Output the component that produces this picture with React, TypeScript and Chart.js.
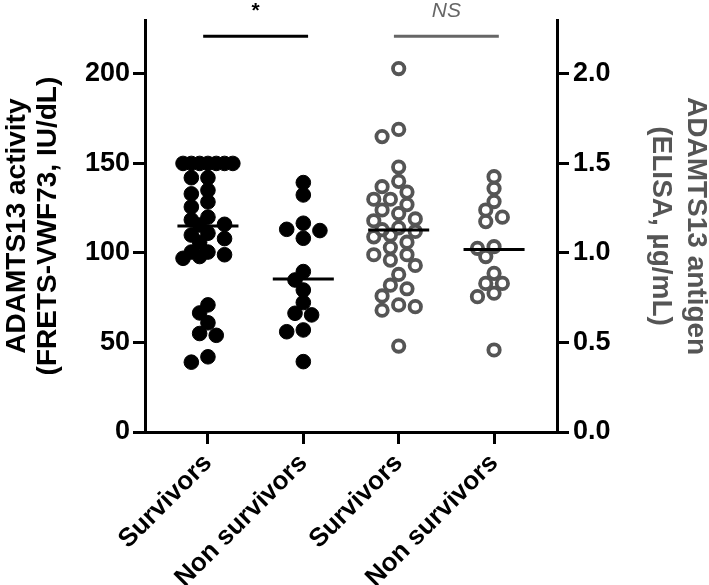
import React, { useEffect, useRef } from "react";
import { Chart, registerables } from "chart.js";

Chart.register(...registerables);

// ---- data ----
const categories = ["Survivors", "Non survivors", "Survivors", "Non survivors"];

// ADAMTS13 activity (IU/dL), left axis
const activitySurvivors = [
  150, 150, 150, 150, 150, 150, 150, 142, 142, 135, 133, 128.5, 125.7, 120, 118.5, 116, 115.6,
  111, 110, 108, 106, 100.5, 100.5, 99, 98, 97, 71, 66.5, 61, 55, 54, 42, 39,
];
const activityNonSurvivors = [139.3, 132.4, 116.6, 113.2, 112.5, 108.2, 89.6, 84.9, 79.3, 72.3, 66.3, 65.4, 57, 56, 39.3];

// ADAMTS13 antigen (µg/mL), right axis
const antigenSurvivors = [
  2.03, 1.69, 1.65, 1.48, 1.4, 1.37, 1.34, 1.3, 1.3, 1.27, 1.24, 1.22, 1.19, 1.18, 1.14, 1.13, 1.12,
  1.1, 1.09, 1.06, 1.03, 0.99, 0.99, 0.96, 0.93, 0.88, 0.82, 0.8, 0.76, 0.71, 0.7, 0.68, 0.48,
];
const antigenNonSurvivors = [1.426, 1.36, 1.287, 1.24, 1.2, 1.175, 1.035, 1.026, 0.98, 0.886, 0.83, 0.83, 0.775, 0.756, 0.458];

const medians = [115, 85.5, 1.128, 1.02];

const leftTicks = [0, 50, 100, 150, 200];
const rightTicks = [0, 0.5, 1.0, 1.5, 2.0];

const sigBars = [
  { from: 1, to: 2, label: "*", level: 221, color: "#000000" },
  { from: 3, to: 4, label: "NS", level: 221, color: "#666666" },
];

const FONT = "'Liberation Sans', Arial, Helvetica, sans-serif";
const GRAY = "#555555";

function swarm(values: number[], cat: number, xs: any, ys: any) {
  const cx = xs.getPixelForValue(cat);
  const STEP = 8.3;
  const SLOTS = 3;
  const D = 11.5;
  const order = values.map((_, i) => i).sort((a, b) => values[b] - values[a]);
  const placed: { px: number; py: number }[] = [];
  const out: { x: number; y: number }[] = new Array(values.length);
  const cands = [0];
  for (let k = 1; k <= SLOTS; k++) cands.push(-k, k);
  for (const i of order) {
    const py = ys.getPixelForValue(values[i]);
    let best = cx;
    let bestScore = -Infinity;
    for (const k of cands) {
      const px = cx + k * STEP;
      let minD = Infinity;
      for (const p of placed) minD = Math.min(minD, Math.hypot(p.px - px, p.py - py));
      if (minD >= D) {
        best = px;
        break;
      }
      if (minD > bestScore + 0.01) {
        bestScore = minD;
        best = px;
      }
    }
    placed.push({ px: best, py });
    out[i] = { x: xs.getValueForPixel(best), y: values[i] };
  }
  return out;
}

const sigPlugin = {
  id: "sigBars",
  afterDraw(chart: any) {
    const { ctx, scales } = chart;
    const x = scales.x;
    const y = scales.y;
    sigBars.forEach((b) => {
      const x1 = x.getPixelForValue(b.from - 0.05);
      const x2 = x.getPixelForValue(b.to + 0.05);
      const yy = y.getPixelForValue(b.level);
      ctx.save();
      ctx.strokeStyle = b.color;
      ctx.lineWidth = 3;
      ctx.beginPath();
      ctx.moveTo(x1, yy);
      ctx.lineTo(x2, yy);
      ctx.stroke();
      ctx.fillStyle = b.color;
      ctx.textAlign = "center";
      ctx.textBaseline = "alphabetic";
      ctx.font = b.label === "NS" ? `italic 21px ${FONT}` : `bold 21px ${FONT}`;
      ctx.fillText(b.label, (x1 + x2) / 2, yy - 19);
      ctx.restore();
    });
  },
};

export default function App() {
  const ref = useRef<HTMLCanvasElement | null>(null);

  useEffect(() => {
    if (!ref.current) return;
    const medianLine = (i: number, axis: string) => ({
      type: "line" as const,
      data: [
        { x: i + 1 - 0.32, y: medians[i] },
        { x: i + 1 + 0.32, y: medians[i] },
      ],
      yAxisID: axis,
      borderColor: "#000",
      borderWidth: 3,
      pointRadius: 0,
      showLine: true,
      order: 0,
    });
    const filled = {
      backgroundColor: "#000",
      borderColor: "#000",
      borderWidth: 1,
      pointRadius: 7.3,
      order: 1,
    };
    const open = {
      backgroundColor: "rgba(0,0,0,0)",
      borderColor: GRAY,
      borderWidth: 3.8,
      pointRadius: 5.7,
      order: 1,
    };
    const tickFont = { family: FONT, size: 27, weight: "bold" as const };
    const chart = new Chart(ref.current, {
      type: "scatter",
      data: {
        datasets: [
          { ...filled, data: [], yAxisID: "y" } as any,
          { ...filled, data: [], yAxisID: "y" } as any,
          { ...open, data: [], yAxisID: "y2" } as any,
          { ...open, data: [], yAxisID: "y2" } as any,
          medianLine(0, "y"),
          medianLine(1, "y"),
          medianLine(2, "y2"),
          medianLine(3, "y2"),
        ],
      },
      options: {
        animation: false,
        responsive: false,
        layout: { padding: { top: 20, left: 0, right: 0, bottom: 0 } },
        plugins: { legend: { display: false }, tooltip: { enabled: false } },
        scales: {
          x: {
            type: "linear",
            min: 0.34,
            max: 4.66,
            afterBuildTicks: (s: any) => {
              s.ticks = categories.map((_, i) => ({ value: i + 1 }));
            },
            afterFit: (s: any) => {
              s.height = 153;
            },
            ticks: {
              autoSkip: false,
              minRotation: 45,
              maxRotation: 45,
              padding: 4,
              color: "#000",
              font: { family: FONT, size: 26, weight: "bold" },
              callback: (v: any) => categories[Math.round(v) - 1] ?? "",
            },
            grid: { display: true, drawOnChartArea: false, drawTicks: true, tickLength: 12, color: "#000", lineWidth: 3 },
            border: { display: true, color: "#000", width: 3 },
          },
          y: {
            type: "linear",
            position: "left",
            min: 0,
            max: 230,
            afterBuildTicks: (s: any) => {
              s.ticks = leftTicks.map((v) => ({ value: v }));
            },
            afterFit: (s: any) => {
              s.width = 145;
            },
            ticks: { color: "#000", font: tickFont, padding: 3 },
            grid: { display: true, drawOnChartArea: false, drawTicks: true, tickLength: 12, color: "#000", lineWidth: 3 },
            border: { display: true, color: "#000", width: 3 },
            title: {
              display: true,
              text: ["ADAMTS13 activity", "(FRETS-VWF73, IU/dL)"],
              color: "#000",
              font: { family: FONT, size: 28, weight: "bold", lineHeight: 1.1 },
              padding: { top: 2, bottom: 0 },
            },
          },
          y2: {
            type: "linear",
            position: "right",
            min: 0,
            max: 2.3,
            afterBuildTicks: (s: any) => {
              s.ticks = rightTicks.map((v) => ({ value: v }));
            },
            afterFit: (s: any) => {
              s.width = 152;
            },
            ticks: { color: "#000", font: tickFont, padding: 4, callback: (v: any) => Number(v).toFixed(1) },
            grid: { display: true, drawOnChartArea: false, drawTicks: true, tickLength: 12, color: "#000", lineWidth: 3 },
            border: { display: true, color: "#000", width: 3 },
            title: {
              display: true,
              text: ["ADAMTS13 antigen", "(ELISA, µg/mL)"],
              color: GRAY,
              font: { family: FONT, size: 28, weight: "bold", lineHeight: 1.25 },
              padding: { top: -4, bottom: 0 },
            },
          },
        },
      },
      plugins: [sigPlugin],
    });

    const xs = chart.scales.x;
    chart.data.datasets[0].data = swarm(activitySurvivors, 1, xs, chart.scales.y) as any;
    chart.data.datasets[1].data = swarm(activityNonSurvivors, 2, xs, chart.scales.y) as any;
    chart.data.datasets[2].data = swarm(antigenSurvivors, 3, xs, chart.scales.y2) as any;
    chart.data.datasets[3].data = swarm(antigenNonSurvivors, 4, xs, chart.scales.y2) as any;
    chart.update();

    return () => chart.destroy();
  }, []);

  return (
    <div style={{ position: "fixed", left: 0, top: 0, width: 709, height: 585, background: "#fff" }}>
      <canvas ref={ref} width={709} height={585} style={{ display: "block", width: 709, height: 585 }} />
    </div>
  );
}
